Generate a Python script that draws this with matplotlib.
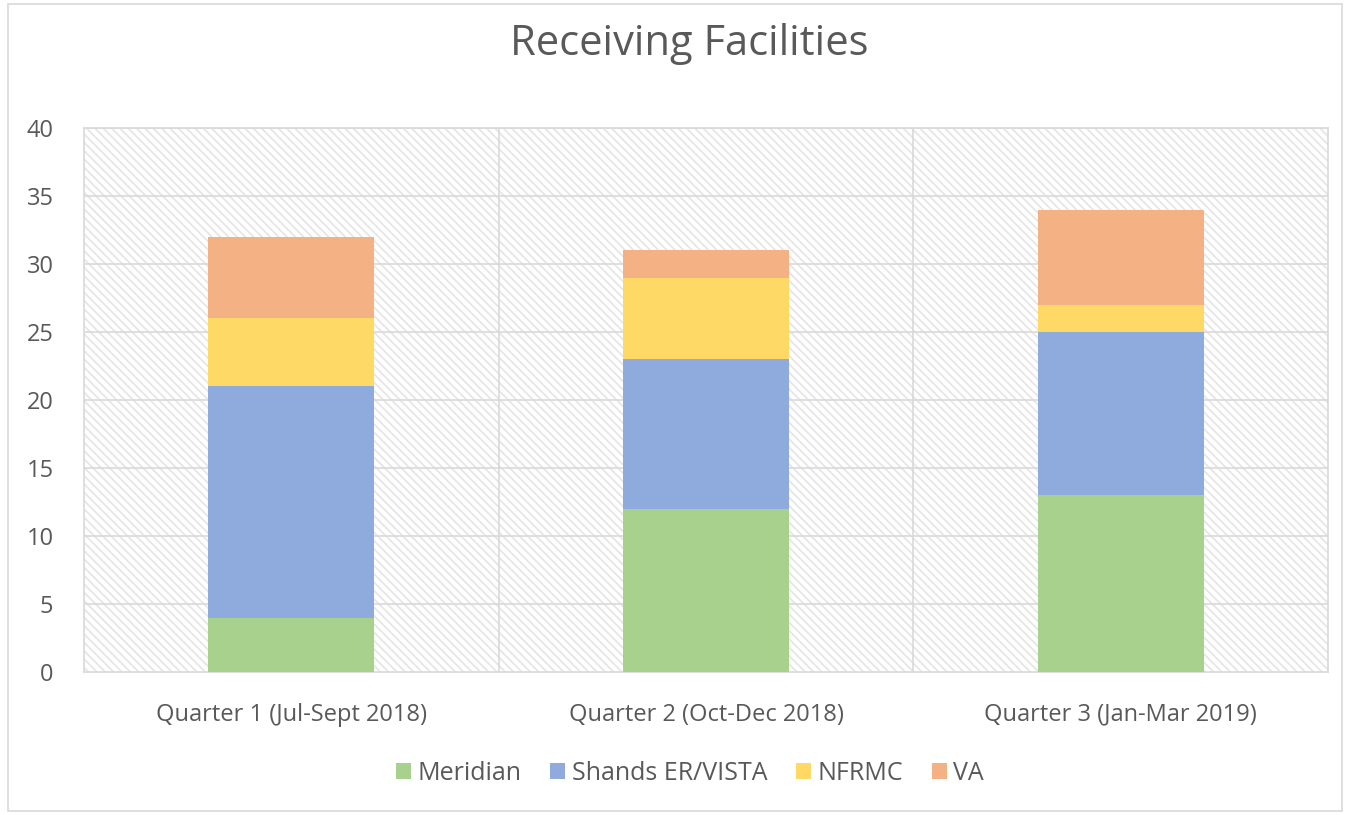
import matplotlib
matplotlib.use("Agg")
import matplotlib.pyplot as plt
from matplotlib.patches import Rectangle
import numpy as np

quarters = ["Quarter 1 (Jul-Sept 2018)", "Quarter 2 (Oct-Dec 2018)", "Quarter 3 (Jan-Mar 2019)"]
meridian = [4, 12, 13]
shands = [17, 11, 12]
nfrmc = [5, 6, 2]
va = [6, 2, 7]
series_names = ["Meridian", "Shands ER/VISTA", "NFRMC", "VA"]
colors = ["#A9D18E", "#8FAADC", "#FFD966", "#F4B183"]

plt.rcParams['font.family'] = ['Open Sans', 'DejaVu Sans']
plt.rcParams['hatch.color'] = '#E6E6E6'
plt.rcParams['hatch.linewidth'] = 1.3

fig = plt.figure(figsize=(13.47, 8.15), dpi=100)
ax = fig.add_axes([0.0624, 0.1755, 0.9236, 0.6675])

# hatched plot background
ax.add_patch(Rectangle((0, 0), 1, 1, transform=ax.transAxes, facecolor='white',
                       edgecolor='#E6E6E6', hatch='\\\\\\\\', linewidth=0, zorder=0))

x = np.arange(len(quarters))
bottom = np.zeros(len(quarters))
for vals, name, c in zip([meridian, shands, nfrmc, va], series_names, colors):
    ax.bar(x, vals, width=0.4, bottom=bottom, color=c, label=name, zorder=3)
    bottom += np.array(vals)

ax.set_xlim(-0.5, 2.5)
ax.set_ylim(0, 40)
ax.set_yticks(range(0, 41, 5))
ax.set_xticks(x)
ax.set_xticklabels(quarters)
ax.tick_params(axis='both', length=0, labelsize=17, colors='#595959')
ax.tick_params(axis='x', pad=22)
ax.tick_params(axis='y', pad=22)

for y in range(5, 41, 5):
    ax.axhline(y, color='#D9D9D9', linewidth=1.2, zorder=1)
for xv in [0.5, 1.5]:
    ax.axvline(xv, color='#D9D9D9', linewidth=1.2, zorder=1)
for s in ax.spines.values():
    s.set_color('#D9D9D9')
    s.set_linewidth(1.2)

fig.suptitle("Receiving Facilities", x=0.512, y=0.972, fontsize=30, color='#595959')

ax.legend(loc='center', bbox_to_anchor=(0.487, -0.187), ncol=4, frameon=False,
          fontsize=18, labelcolor='#595959', handlelength=0.6, handleheight=0.6,
          handletextpad=0.25, columnspacing=1.15)

# outer chart border
fig.add_artist(Rectangle((0.006, 0.005), 0.99, 0.99, transform=fig.transFigure,
                         fill=False, edgecolor='#D9D9D9', linewidth=1.2))

fig.savefig("out.png", dpi=100)
